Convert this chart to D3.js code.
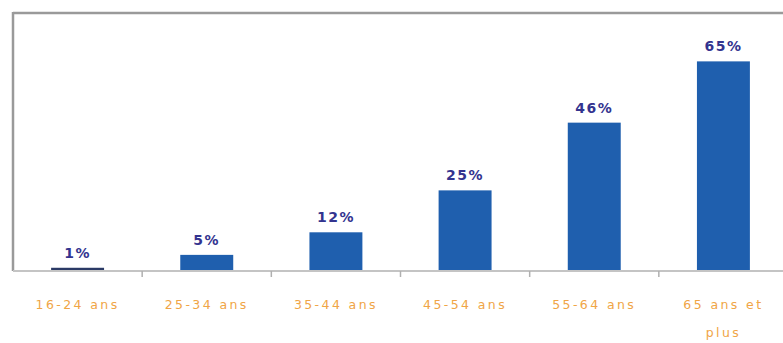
<!DOCTYPE html>
<html>
<head>
<meta charset="utf-8">
<script src="https://cdn.jsdelivr.net/npm/d3@7"></script>
<style>
  html, body { margin: 0; padding: 0; background: #ffffff; }
  svg { display: block; }
</style>
</head>
<body>
<svg id="chart" width="783" height="343"></svg>
<script>
// Share of each age group (percent)
const categories = ["16-24 ans", "25-34 ans", "35-44 ans", "45-54 ans", "55-64 ans", "65 ans et plus"];
const values = [1, 5, 12, 25, 46, 65];
const yDomain = [0, 80];

const width = 783, height = 343;
const plot = { left: 13, right: 788, top: 13, bottom: 271 };

const svg = d3.select("#chart");

const x = d3.scaleBand()
  .domain(categories)
  .range([plot.left, plot.right])
  .paddingInner(0.59)
  .paddingOuter(0.295);

const y = d3.scaleLinear()
  .domain(yDomain)
  .range([plot.bottom, plot.top]);

// Plot frame: top and left edges
svg.append("line")
  .attr("x1", plot.left).attr("x2", width)
  .attr("y1", plot.top).attr("y2", plot.top)
  .attr("stroke", "#9a9a9a").attr("stroke-width", 2.5);
svg.append("line")
  .attr("x1", plot.left).attr("x2", plot.left)
  .attr("y1", plot.top - 1).attr("y2", plot.bottom)
  .attr("stroke", "#9a9a9a").attr("stroke-width", 2.5);

// Bars
svg.append("g")
  .selectAll("rect")
  .data(values)
  .join("rect")
  .attr("x", (d, i) => x(categories[i]))
  .attr("width", x.bandwidth())
  .attr("y", d => y(d))
  .attr("height", d => y(0) - y(d))
  .attr("fill", (d, i) => i === 0 ? "#2b3a66" : "#1f5fae");

// Category axis with ticks at band boundaries
const axisG = svg.append("g");
axisG.append("line")
  .attr("x1", plot.left).attr("x2", width)
  .attr("y1", plot.bottom).attr("y2", plot.bottom)
  .attr("stroke", "#c4c4c4").attr("stroke-width", 2);
const step = x.step();
axisG.selectAll("line.tick")
  .data(categories.slice(1))
  .join("line")
  .attr("class", "tick")
  .attr("x1", d => x(d) - step * x.paddingInner() / 2)
  .attr("x2", d => x(d) - step * x.paddingInner() / 2)
  .attr("y1", plot.bottom)
  .attr("y2", plot.bottom + 6)
  .attr("stroke", "#b0b0b0").attr("stroke-width", 1.5);

// Category labels (wrapped to the band width)
const catLabels = svg.append("g")
  .selectAll("text")
  .data(categories)
  .join("text")
  .attr("x", d => x(d) + x.bandwidth() / 2)
  .attr("y", 309)
  .attr("text-anchor", "middle")
  .attr("fill", "#f0a546")
  .style("font-family", "'DejaVu Sans', Verdana, sans-serif")
  .style("font-size", "12.5px")
  .style("letter-spacing", "2.4px");
catLabels.each(function(d) {
  const t = d3.select(this);
  const lines = d === "65 ans et plus" ? ["65 ans et", "plus"] : [d];
  lines.forEach((ln, k) => {
    t.append("tspan")
      .attr("x", x(d) + x.bandwidth() / 2)
      .attr("dy", k === 0 ? 0 : 28)
      .text(ln);
  });
});

// Value labels above bars
svg.append("g")
  .selectAll("text")
  .data(values)
  .join("text")
  .attr("x", (d, i) => x(categories[i]) + x.bandwidth() / 2)
  .attr("y", d => y(d) - 10)
  .attr("text-anchor", "middle")
  .attr("fill", "#33348f")
  .style("font-family", "'DejaVu Sans', Verdana, sans-serif")
  .style("font-weight", "bold")
  .style("font-size", "14px")
  .style("letter-spacing", "1.5px")
  .text(d => d + "%");
</script>
</body>
</html>
